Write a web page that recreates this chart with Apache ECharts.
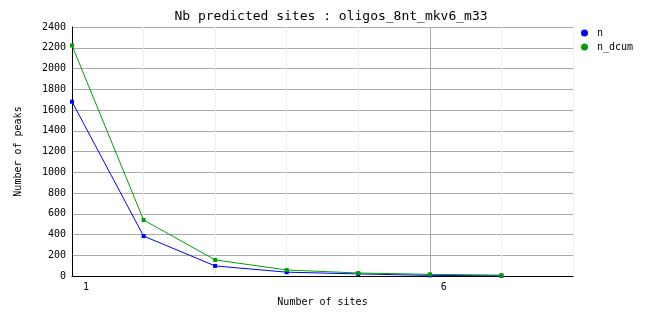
<!DOCTYPE html>
<html><head><meta charset="utf-8">
<script src="https://cdn.jsdelivr.net/npm/echarts@6/dist/echarts.min.js"></script>
<style>html,body{margin:0;padding:0;background:#fff}#c{width:662px;height:328px}</style>
</head><body><div id="c"></div>
<script>
const titleText = 'Nb predicted sites : oligos_8nt_mkv6_m33';
const xValues = [1, 2, 3, 4, 5, 6, 7];
const nValues = [1680, 385, 97, 37, 20, 6, 2];
const nDcumValues = [2222, 540, 155, 58, 29, 16, 8];
const xTickLabels = ['1', '6'];
const seriesNames = ['n', 'n_dcum'];

const font = 'DejaVu Sans Mono';
const chart = echarts.init(document.getElementById('c'), null, {renderer: 'canvas'});
chart.setOption({
  animation: false,
  backgroundColor: '#fff',
  title: {
    text: titleText, left: 'center', top: 10, padding: 0,
    textStyle: {fontFamily: font, fontSize: 13, fontWeight: 'normal', color: '#000'}
  },
  legend: {
    orient: 'vertical', left: 581, top: 27, padding: 0,
    itemWidth: 15, itemHeight: 7, itemGap: 2, icon: 'circle',
    textStyle: {fontFamily: font, fontSize: 10, color: '#000', lineHeight: 12},
    data: seriesNames
  },
  grid: {left: 72, right: 89, top: 27, bottom: 52, containLabel: false},
  xAxis: {
    type: 'value', min: 1, max: 8, interval: 1,
    name: 'Number of sites', nameLocation: 'middle', nameGap: 21,
    nameTextStyle: {fontFamily: font, fontSize: 10, color: '#000'},
    axisLine: {show: true, onZero: false, lineStyle: {color: '#000', width: 1}},
    axisTick: {show: false},
    axisLabel: {
      fontFamily: font, fontSize: 10, color: '#000', margin: 6,
      padding: [0, 0, 0, 28],
      formatter: v => xTickLabels.indexOf(String(v)) >= 0 ? String(v) : ''
    },
    splitLine: {show: true, lineStyle: {color: '#eeeeee', width: 1}}
  },
  yAxis: {
    type: 'value', min: 0, max: 2400, interval: 200,
    name: 'Number of peaks', nameLocation: 'middle', nameGap: 49, nameRotate: 90,
    nameTextStyle: {fontFamily: font, fontSize: 10, color: '#000'},
    axisLine: {show: true, lineStyle: {color: '#000', width: 1}},
    axisTick: {show: false},
    axisLabel: {fontFamily: font, fontSize: 10, color: '#000', margin: 6, formatter: v => String(v)},
    splitLine: {show: true, lineStyle: {color: '#aaaaaa', width: 1}}
  },
  series: [
    {
      name: seriesNames[0], type: 'line',
      data: xValues.map((x, i) => [x, nValues[i]]),
      color: '#0000ff', symbol: 'rect', symbolSize: 4, showSymbol: true,
      lineStyle: {width: 1, color: '#0000ff'}, itemStyle: {color: '#0000ff'},
      z: 3
    },
    {
      name: seriesNames[1], type: 'line',
      data: xValues.map((x, i) => [x, nDcumValues[i]]),
      color: '#00a000', symbol: 'rect', symbolSize: 4, showSymbol: true,
      lineStyle: {width: 1, color: '#00a000'}, itemStyle: {color: '#00a000'},
      z: 4,
      markLine: {
        silent: true, symbol: 'none', label: {show: false}, animation: false,
        lineStyle: {color: '#aaaaaa', type: 'solid', width: 1},
        data: [{xAxis: 6}], z: 1
      }
    }
  ]
});
</script></body></html>
